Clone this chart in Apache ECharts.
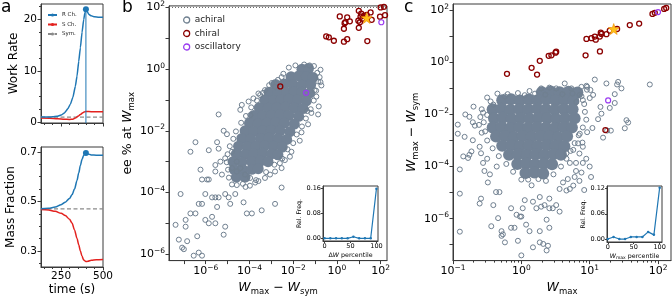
<!DOCTYPE html>
<html><head><meta charset="utf-8">
<script src="https://cdn.jsdelivr.net/npm/echarts@6/dist/echarts.min.js"></script>
<style>html,body{margin:0;padding:0;background:#fff}#c{width:672px;height:301px}</style>
</head><body><div id="c"></div>
<script>
const FONT='DejaVu Sans';
const BLUE='#1f77b4', RED='#e3221f', SYMG='#8a8a8a', SLATE='#708090', CORE='#728295', DRED='#8b0000', PURP='#9a3cf0', SP='#3a3a3a';

// ---------- panel a ----------
const tWorkR=[130,150,175,200,225,250,270,290,305,320,335,345,355,365,375,385,392,398,405,415,430,450,475,500];
const workR=[1.0,1.0,1.0,1.05,1.15,1.4,1.8,2.6,3.5,4.8,7.0,9.0,11.8,14.5,17.5,20.0,21.3,22.0,21.6,21.0,20.7,20.5,20.4,20.4];
const tWorkS=[130,180,230,270,300,320,335,350,365,380,392,400,430,500];
const workS=[0.8,0.78,0.7,0.6,0.55,0.6,0.8,1.15,1.5,1.85,2.05,2.1,2.05,2.05];
const tSym=[130,500];
const workSym=[1.0,1.0];
const peakT=398, peakWork=22.0, peakMass=0.696;
const tMass=[130,175,215,250,275,300,315,330,345,355,365,375,385,398,410,430,460,500];
const massR=[0.47,0.472,0.477,0.487,0.497,0.512,0.527,0.55,0.585,0.615,0.645,0.67,0.687,0.696,0.692,0.688,0.687,0.687];
const massS=[0.467,0.465,0.46,0.452,0.443,0.428,0.413,0.385,0.35,0.325,0.3,0.278,0.263,0.257,0.258,0.262,0.264,0.265];
const massSym=[0.47,0.47];
const workTicks=[0,10,20], workMinor=[2.5,5,7.5,12.5,15,17.5,22.5];
const massTicks=[0.3,0.5,0.7], massMinor=[0.25,0.35,0.4,0.45,0.55,0.6,0.65];
const timeTicks=[250,500], timeMinor=[150,200,300,350,400,450];

// ---------- panel b (log10 values) ----------
const bXTicks=[-7,-6,-5,-4,-3,-2,-1,0,1,2], bXLabels=[-6,-4,-2,0,2];
const bYTicks=[-6,-5,-4,-3,-2,-1,0,1,2], bYLabels=[-6,-4,-2,0,2];
const bCore=[[-1.6,0.0],[-1.3,0.02],
[-2.1,-0.25],[-1.75,-0.22],[-1.4,-0.25],[-1.1,-0.27],
[-2.8,-0.5],[-2.4,-0.48],[-2.0,-0.5],[-1.6,-0.52],[-1.2,-0.5],
[-3.1,-0.75],[-2.7,-0.77],[-2.3,-0.75],[-1.95,-0.73],[-1.6,-0.75],[-1.25,-0.78],
[-3.3,-1.0],[-2.9,-1.02],[-2.55,-1.0],[-2.2,-0.98],[-1.8,-1.0],[-1.4,-1.03],
[-3.55,-1.25],[-3.15,-1.27],[-2.75,-1.25],[-2.35,-1.23],[-1.95,-1.25],[-1.55,-1.28],
[-3.8,-1.5],[-3.4,-1.52],[-3.0,-1.5],[-2.6,-1.48],[-2.2,-1.5],[-1.75,-1.53],
[-4.0,-1.75],[-3.6,-1.77],[-3.2,-1.75],[-2.8,-1.73],[-2.4,-1.75],[-1.95,-1.78],
[-4.2,-2.0],[-3.8,-2.02],[-3.4,-2.0],[-3.0,-1.98],[-2.6,-2.0],[-2.15,-2.03],
[-4.35,-2.25],[-3.95,-2.27],[-3.5,-2.25],[-3.1,-2.23],[-2.7,-2.25],[-2.3,-2.28],
[-4.5,-2.5],[-4.1,-2.52],[-3.7,-2.5],[-3.3,-2.48],[-2.9,-2.5],[-2.5,-2.53],
[-4.6,-2.75],[-4.2,-2.77],[-3.8,-2.75],[-3.4,-2.73],[-3.0,-2.75],[-2.7,-2.78],
[-4.75,-3.0],[-4.35,-3.02],[-3.9,-3.0],[-3.5,-2.98],[-3.15,-3.0],
[-4.7,-3.25],[-4.3,-3.27],[-3.9,-3.25],[-3.6,-3.23],
[-4.6,-3.5],[-4.2,-3.5]];
const bAchiral=[[-2.53,-0.26],[-2.98,-0.45],[-2.83,-0.58],[-3.29,-0.68],[-3.59,-0.79],[-3.82,-0.95],[-4.35,-1.16],[-4.42,-1.32],[-5.41,-1.47],
[-0.71,-0.53],[-0.79,-0.26],[-1.02,-0.68],[-0.94,-0.89],[-1.17,-1.42],[-0.86,-1.47],[-1.32,-1.79],[-1.62,-2.05],[-1.70,-2.32],
[-2.08,-2.68],[-2.15,-2.84],[-2.38,-2.95],[-2.61,-3.05],[-2.53,-3.84],[-2.83,-4.37],[-3.44,-4.58],[-3.89,-4.68],[-4.12,-4.68],
[-4.27,-4.32],[-4.88,-4.37],[-4.95,-4.16],[-5.11,-4.05],[-5.41,-4.16],[-5.56,-4.16],[-5.71,-4.16],[-6.02,-4.05],[-6.17,-4.37],
[-6.32,-4.37],[-6.47,-4.68],[-6.70,-4.68],[-6.92,-4.89],[-7.15,-4.05],[-7.38,-5.05],[-7.23,-5.53],[-6.92,-5.11],[-6.85,-5.58],
[-7.0,-5.84],[-7.08,-5.79],[-6.55,-6.05],[-6.32,-5.95],[-6.17,-6.05],[-6.39,-5.42],[-6.02,-4.89],[-5.86,-5.0],[-5.56,-5.0],
[-5.11,-5.11],[-5.18,-5.37],[-5.71,-4.79],[-5.48,-4.47],[-4.80,-3.74],[-4.65,-4.05],[-5.26,-3.42],[-5.56,-3.32],[-5.86,-3.58],
[-6.24,-3.26],[-6.17,-3.58],[-5.94,-3.58],[-6.47,-2.37],[-6.70,-2.68],[-5.86,-2.63],[-5.48,-2.37],[-5.41,-2.58],[-5.18,-2.0],
[-5.03,-2.11],[-4.80,-2.68],[-4.58,-3.0],[-4.42,-3.21],[-4.20,-3.42],[-3.97,-3.53],[-3.74,-3.68],[-3.59,-3.63],[-3.29,-3.53],
[-3.06,-3.42],[-2.83,-3.32],[-2.53,-3.21],[-5.11,-2.89],[-5.33,-3.0],[-5.56,-3.11],[-4.80,-3.21],[-4.58,-3.32],
[-0.75,-0.02],[-0.75,-0.42],[-0.83,-1.21],[-1.36,-1.36],[-3.96,-1.49],[-4.04,-1.05],[-3.51,-0.84],
[-3.1,-0.52],[-3.38,-0.77],[-3.66,-1.02],[-3.92,-1.24],[-4.16,-1.52],[-4.38,-1.74],[-4.62,-2.02],[-4.74,-2.26],[-4.9,-2.5],
[-5.0,-2.76],[-5.04,-3.02],[-4.98,-3.26],[-4.94,-3.52],[-4.58,-3.76],[-4.3,-3.72],[-3.98,-3.78],
[-1.05,0.1],[-0.9,-0.12],[-0.86,-0.4],[-0.95,-0.7],[-1.06,-1.02],[-1.2,-1.3],[-1.42,-1.6],[-1.6,-1.86],[-1.84,-2.12],
[-2.0,-2.4],[-2.26,-2.6],[-2.5,-2.9],[-2.86,-3.1],[-3.24,-3.34],[-3.7,-3.6],[-4.18,-3.82],
[-2.2,0.05],[-1.9,0.12],[-1.5,0.15],[-1.25,0.12],[-2.45,-0.15],[-2.7,-0.35]];
const bChiral=[[0.13,1.71],[0.47,1.68],[0.39,1.52],[0.35,1.49],[0.32,1.31],[0.59,1.55],[-0.14,0.92],[0.32,0.89],[0.47,0.97],
[1.0,1.89],[1.11,1.80],[1.08,1.70],[1.23,1.73],[0.98,1.57],[1.05,1.52],[1.16,1.63],[1.36,1.76],[1.54,1.84],[1.59,1.60],
[1.0,1.34],[1.39,0.91],[1.97,1.70],[2.0,2.0],[2.15,2.02],[2.2,1.75],[-0.49,1.06],[-0.37,1.03],[-2.59,-0.56]];
const bOsc=[[2.03,1.52],[-1.41,-0.77]];
const bStar=[[1.36,1.66]];
const bRefLine=[[-7.68,2],[2.29,2]];

// ---------- panel c (log10 values) ----------
const cXTicks=[-1,0,1,2], cXLabels=[-1,0,1,2];
const cXMinorVals=[0.2,0.3,0.4,0.5,0.6,0.7,0.8,0.9,2,3,4,5,6,7,8,9,20,30,40,50,60,70,80,90];
const cYTicks=[-7,-6,-5,-4,-3,-2,-1,0,1,2], cYLabels=[-6,-4,-2,0,2];
const cCore=[[0.3,-1.15],[0.43,-1.12],[0.56,-1.15],[0.69,-1.13],[0.82,-1.16],
[-0.28,-1.45],[-0.15,-1.42],[-0.02,-1.46],[0.11,-1.43],[0.24,-1.45],[0.37,-1.42],[0.50,-1.46],[0.63,-1.44],[0.76,-1.47],
[-0.42,-1.8],[-0.29,-1.78],[-0.16,-1.82],[-0.03,-1.79],[0.10,-1.81],[0.23,-1.78],[0.36,-1.8],[0.49,-1.82],[0.62,-1.79],[0.75,-1.8],
[-0.40,-2.15],[-0.27,-2.13],[-0.14,-2.17],[-0.01,-2.14],[0.12,-2.16],[0.25,-2.13],[0.38,-2.15],[0.51,-2.17],[0.64,-2.14],[0.78,-2.15],
[-0.42,-2.5],[-0.29,-2.48],[-0.16,-2.52],[-0.03,-2.49],[0.10,-2.51],[0.23,-2.48],[0.36,-2.5],[0.49,-2.52],[0.62,-2.49],[0.74,-2.5],
[-0.37,-2.85],[-0.24,-2.83],[-0.11,-2.87],[0.02,-2.84],[0.15,-2.86],[0.28,-2.83],[0.41,-2.85],[0.54,-2.87],[0.67,-2.84],
[-0.28,-3.2],[-0.15,-3.18],[-0.02,-3.22],[0.11,-3.19],[0.24,-3.21],[0.37,-3.18],[0.50,-3.2],[0.63,-3.22],
[-0.18,-3.55],[-0.05,-3.53],[0.08,-3.57],[0.21,-3.54],[0.34,-3.56],[0.47,-3.53],[0.58,-3.55],
[-0.06,-3.9],[0.07,-3.88],[0.20,-3.92],[0.33,-3.89],[0.45,-3.91],
[0.06,-4.25],[0.19,-4.23],[0.32,-4.27]];
const cAchiral=[[-0.93,-2.39],[-0.93,-2.74],[-0.83,-2.86],[-0.76,-2.09],[-0.71,-2.30],[-0.68,-2.43],[-0.90,-4.11],[-0.90,-5.04],
[-0.90,-6.50],[-0.85,-3.61],[-0.76,-3.55],[-0.73,-3.42],[-0.78,-3.67],[-0.56,-1.93],[-0.59,-3.49],[-0.56,-3.86],[-0.54,-4.17],
[-0.49,-4.61],[-0.46,-4.30],[-0.61,-5.42],[-0.59,-5.23],[-0.44,-6.29],[-0.34,-5.98],[-0.29,-6.48],[-0.27,-6.60],[-0.24,-6.91],
[-0.29,-6.66],[-0.15,-6.35],[-0.10,-6.35],[-0.05,-6.85],[-0.02,-5.92],[0.0,-5.92],[0.02,-5.60],[-0.07,-5.85],[0.07,-6.23],
[0.12,-6.48],[0.17,-7.10],[0.27,-6.91],[0.27,-6.48],[0.22,-5.60],[0.29,-5.54],[0.37,-6.04],[0.32,-6.97],[0.37,-7.22],[0.34,-5.48],
[0.41,-5.60],[0.46,-5.60],[0.41,-6.35],[0.51,-5.48],[0.56,-5.73],[0.71,-4.86],[0.66,-4.92],[0.76,-4.73],[0.85,-4.55],[0.88,-4.23],
[0.80,-3.86],[0.90,-3.86],[0.68,-4.48],[0.56,-4.86],[0.61,-4.61],[0.41,-5.23],[0.17,-5.35],[0.05,-5.29],[-0.15,-5.60],[-0.32,-4.98],
[-0.37,-4.98],[-0.41,-5.48],[0.27,-5.17],[0.0,-7.41],[0.39,-7.04],[0.66,-3.49],[0.71,-3.86],[0.76,-3.36],[0.90,-3.24],[0.80,-4.17],
[-0.24,-1.31],[-0.05,-1.18],[0.12,-1.10],[0.29,-1.0],[0.41,-0.97],[0.51,-1.0],[-0.41,-1.62],[-0.71,-2.99],[-0.61,-3.24],
[0.635,-0.81],[1.075,-0.66],[0.953,-0.90],[1.245,-0.81],[1.416,-0.75],[1.401,-0.85],[1.465,-1.00],[1.88,-0.85],[1.367,-1.22],
[1.158,-1.71],[1.367,-1.56],[1.294,-1.75],[1.172,-1.97],[1.123,-2.18],[1.538,-2.22],[1.563,-2.31],[1.514,-2.53],[1.04,-2.52],
[1.255,-2.62],[1.196,-2.89],[0.963,-0.94],[1.011,-1.06],[1.050,-1.25],[1.001,-1.37],[0.855,-1.25],[0.733,-1.00],[0.879,-0.94],
[0.806,-1.52],[1.31,-2.62],[0.963,-2.68],[0.855,-2.74],[0.894,-3.08],[0.83,-3.11],
[-0.45,-1.5],[-0.58,-1.8],[-0.6,-2.1],[-0.62,-2.4],[-0.58,-2.7],[-0.5,-3.0],[-0.42,-3.3],[-0.33,-3.6],[-0.22,-3.9],[-0.12,-4.2],[0.0,-4.5],
[0.88,-1.3],[0.92,-1.6],[0.93,-1.9],[0.95,-2.2],[0.9,-2.5],[0.84,-2.8],[0.78,-3.1],[0.72,-3.4],[0.66,-3.7],[0.58,-4.0],[0.47,-4.3],[0.36,-4.55],
[-0.35,-1.2],[-0.2,-1.22],[0.05,-1.26],[0.2,-1.2],[0.35,-1.24],[0.6,-1.22],[0.75,-1.2],[0.1,-4.5],[0.25,-4.48],[0.15,-4.72],
[0.85,-3.5],[0.95,-3.7],[1.0,-4.0],[0.78,-4.4],[0.92,-4.9],[1.02,-4.4],[-0.5,-1.35],[-0.7,-1.7],[-0.82,-2.0],[-0.5,-3.7],[-0.36,-4.0],
[-0.55,-2.3],[-0.53,-2.65],[-0.5,-2.02],[0.96,-1.05],[0.9,-1.45]];
const cChiral=[[-0.21,-0.44],[0.15,-0.21],[0.23,-0.47],[0.27,0.06],[0.40,0.25],[0.44,0.27],[0.50,0.37],[0.51,0.41],[0.94,0.27],
[1.15,0.42],[1.23,-2.60],[0.953,0.90],[1.026,0.93],[1.075,0.99],[1.089,0.87],[1.148,0.99],[1.172,1.09],[1.162,1.14],[1.245,1.08],
[1.294,1.22],[1.401,1.28],[1.587,1.43],[1.724,1.49],[1.919,1.86],[1.953,1.90],[2.09,2.05],[2.12,2.09]];
const cOsc=[[1.27,-1.46],[2.0,1.93]];
const cStar=[[1.352,1.28]];

// ---------- insets ----------
const pct=[0,11.1,22.2,33.3,44.4,55.6,66.7,77.8,88.9,100];
const freqB=[0,0,0,0,0,0.005,0,0,0,0.158];
const freqC=[0,0.005,0,0,0.005,0.005,0.005,0.017,0.010,0.122];
const insetBYTicks=[0,0.08,0.16], insetCYTicks=[0,0.06,0.12], insetXTicks=[0,50,100];

// ---------- helpers ----------
const zip=(a,b)=>a.map((v,i)=>[v,b[i]]);
const pow=v=>{const n=Math.round(v);return '{b|10}{s|'+(n<0?'\u2212'+(-n):n)+'}';};
const powRich={b:{fontFamily:FONT,fontSize:11,lineHeight:15,color:'#000'},s:{fontFamily:FONT,fontSize:7.5,lineHeight:8,verticalAlign:'top',color:'#000'}};
const nameRich={i:{fontFamily:FONT,fontStyle:'italic',fontSize:12.5,lineHeight:16,color:'#000'},
  s:{fontFamily:FONT,fontSize:8.5,lineHeight:8,verticalAlign:'bottom',color:'#000'},
  n:{fontFamily:FONT,fontSize:12.5,lineHeight:16,color:'#000'}};
const smallRich={i:{fontFamily:FONT,fontStyle:'italic',fontSize:6.3,lineHeight:8,color:'#000'},
  s:{fontFamily:FONT,fontSize:4.5,lineHeight:4,verticalAlign:'bottom',color:'#000'},
  n:{fontFamily:FONT,fontSize:6.3,lineHeight:8,color:'#000'}};
function ax(o){
  return {type:'value',gridIndex:o.g,min:o.min,max:o.max,position:o.pos,
    splitLine:{show:false},
    axisLine:{show:o.line!==false,onZero:false,lineStyle:{color:SP,width:1}},
    axisTick:{show:true,inside:false,length:o.tl||3.5,customValues:o.ticks,lineStyle:{color:SP,width:1}},
    axisLabel:{show:!!o.labels,customValues:o.labels||[],margin:o.m||4,fontFamily:FONT,fontSize:o.fs||11,color:'#000',formatter:o.fmt,rich:o.rich},
    name:o.name||'',nameLocation:'middle',nameGap:o.ng||0,
    nameTextStyle:{fontFamily:FONT,fontSize:o.nfs||12,color:'#000',rich:o.nrich},z:3};
}
const xAxis=[
  ax({g:0,min:130,max:500,pos:'bottom',ticks:timeTicks}),
  ax({g:0,min:130,max:500,pos:'bottom',ticks:timeMinor,tl:2,line:false}),
  ax({g:1,min:130,max:500,pos:'bottom',ticks:timeTicks,labels:timeTicks,m:4,fs:10.5,name:'time (s)',ng:17,nfs:12}),
  ax({g:1,min:130,max:500,pos:'bottom',ticks:timeMinor,tl:2,line:false}),
  ax({g:2,min:-7.68,max:2.29,pos:'bottom',ticks:bXTicks,labels:bXLabels,fmt:pow,rich:powRich,m:3,
      name:'{i|W}{s|max} \u2212 {i|W}{s|sym}',nrich:nameRich,nfs:12.5,ng:17}),
  ax({g:3,min:-1,max:2.19,pos:'bottom',ticks:cXTicks,labels:cXLabels,fmt:pow,rich:powRich,m:3,
      name:'{i|W}{s|max}',nrich:nameRich,nfs:12.5,ng:17}),
  ax({g:3,min:-1,max:2.19,pos:'bottom',ticks:cXMinorVals.map(Math.log10),tl:2,line:false}),
  ax({g:4,min:-3,max:103,pos:'bottom',ticks:insetXTicks,labels:insetXTicks,tl:2,m:2,fs:6.5,
      name:'{n|\u0394}{i|W}{n| percentile}',nrich:smallRich,nfs:6.3,ng:10}),
  ax({g:5,min:-1.5,max:104.5,pos:'bottom',ticks:insetXTicks,labels:insetXTicks,tl:2,m:2,fs:6.5,
      name:'{i|W}{s|max}{n| percentile}',nrich:smallRich,nfs:6.3,ng:10})
];
const yAxis=[
  ax({g:0,min:-0.15,max:23,pos:'left',ticks:workTicks,labels:workTicks,m:4,fs:10.5,name:'Work Rate',ng:20,nfs:12}),
  ax({g:0,min:-0.15,max:23,pos:'left',ticks:workMinor,tl:2,line:false}),
  ax({g:1,min:0.235,max:0.72,pos:'left',ticks:massTicks,labels:massTicks,m:4,fs:10.5,fmt:v=>v.toFixed(1),name:'Mass Fraction',ng:22,nfs:12}),
  ax({g:1,min:0.235,max:0.72,pos:'left',ticks:massMinor,tl:2,line:false}),
  ax({g:2,min:-6.21,max:2.05,pos:'left',ticks:bYTicks,labels:bYLabels,fmt:pow,rich:powRich,m:4,
      name:'ee % at {i|W}{s|max}',nrich:nameRich,nfs:12.5,ng:28}),
  ax({g:3,min:-7.61,max:2.24,pos:'left',ticks:cYTicks,labels:cYLabels,fmt:pow,rich:powRich,m:4,
      name:'{i|W}{s|max} \u2212 {i|W}{s|sym}',nrich:nameRich,nfs:12.5,ng:28}),
  ax({g:4,min:-0.0086,max:0.1664,pos:'left',ticks:insetBYTicks,labels:insetBYTicks,tl:2,m:2,fs:6.5,fmt:v=>v.toFixed(2),
      name:'Rel. Freq.',nfs:6.3,ng:21}),
  ax({g:5,min:-0.007,max:0.126,pos:'left',ticks:insetCYTicks,labels:insetCYTicks,tl:2,m:2,fs:6.5,fmt:v=>v.toFixed(2),
      name:'Rel. Freq.',nfs:6.3,ng:21})
];
const grid=[
  {left:41,top:4,width:62,height:119},
  {left:41,top:147,width:62,height:120},
  {left:169,top:5,width:218,height:262},
  {left:453,top:4,width:218,height:263},
  {left:323,top:186,width:55,height:55,backgroundColor:'#fff'},
  {left:607,top:186,width:55,height:56,backgroundColor:'#fff'}
].map(g=>Object.assign({show:true,borderColor:SP,borderWidth:1,containLabel:false},g));

const openSym=(color,bw)=>({color:'rgba(255,255,255,0)',borderColor:color,borderWidth:bw,opacity:1});
function sc(name,xi,yi,data,style,size,z,symbol){
  return {type:'scatter',name,xAxisIndex:xi,yAxisIndex:yi,data,symbol:symbol||'circle',symbolSize:size,
    itemStyle:Object.assign({opacity:1},style),z:z,silent:true,clip:false};
}
function ln(name,xi,yi,data,color,w,dash,smooth){
  return {type:'line',name,xAxisIndex:xi,yAxisIndex:yi,data,symbol:'none',smooth:smooth||false,smoothMonotone:'x',
    lineStyle:{color,width:w,type:dash||'solid'},itemStyle:{color},z:3,silent:true};
}
const STAR='path://M0,-10L2.35,-3.24L9.51,-3.09L3.8,1.24L5.88,8.09L0,4L-5.88,8.09L-3.8,1.24L-9.51,-3.09L-2.35,-3.24Z';
const series=[
  // panel a top
  ln('Sym.',0,0,zip(tSym,workSym),SYMG,1.3,[4,2.5]),
  ln('S Ch.',0,0,zip(tWorkS,workS),RED,1.5,null,0.3),
  ln('R Ch.',0,0,zip(tWorkR,workR),BLUE,1.5,null,0.15),
  ln('',0,0,[[peakT,-0.15],[peakT,peakWork]],BLUE,1),
  sc('',0,0,[[peakT,peakWork]],{color:BLUE},6,5),
  // panel a bottom
  ln('Sym.',2,2,zip(tSym,massSym),SYMG,1.3,[4,2.5]),
  ln('S Ch.',2,2,zip(tMass,massS),RED,1.5,null,0.3),
  ln('R Ch.',2,2,zip(tMass,massR),BLUE,1.5,null,0.3),
  sc('',2,2,[[peakT,peakMass]],{color:BLUE},6,5),
  // panel b
  ln('',4,4,bRefLine,'#666',1,[1,2]),
  sc('',4,4,bCore,{color:CORE},11,2),
  sc('achiral',4,4,bAchiral,openSym(SLATE,1),5,3),
  sc('chiral',4,4,bChiral,openSym(DRED,1.3),5,4),
  sc('oscillatory',4,4,bOsc,openSym(PURP,1.2),5,4),
  sc('',4,4,bStar,{color:'#ffc21a',borderColor:'#f08a00',borderWidth:0.6},11,5,STAR),
  // panel c
  sc('',5,5,cCore,{color:CORE},12,2),
  sc('achiral',5,5,cAchiral,openSym(SLATE,1),5,3),
  sc('chiral',5,5,cChiral,openSym(DRED,1.3),5,4),
  sc('oscillatory',5,5,cOsc,openSym(PURP,1.2),5,4),
  sc('',5,5,cStar,{color:'#ffc21a',borderColor:'#f08a00',borderWidth:0.6},11,5,STAR),
  // insets
  Object.assign(ln('',7,6,zip(pct,freqB),BLUE,1.2),{symbol:'circle',symbolSize:2.5,showSymbol:true,z:6}),
  Object.assign(ln('',8,7,zip(pct,freqC),BLUE,1.2),{symbol:'circle',symbolSize:2.5,showSymbol:true,z:6})
];
const chart=echarts.init(document.getElementById('c'),null,{renderer:'canvas'});
chart.setOption({
  animation:false,backgroundColor:'#fff',
  grid,xAxis,yAxis,series,
  legend:[
    {left:42,top:7,orient:'vertical',itemGap:3.5,itemWidth:9,itemHeight:4,selectedMode:false,
     textStyle:{fontFamily:FONT,fontSize:5.5,color:'#222'},data:['R Ch.','S Ch.','Sym.']},
    {left:178,top:10,orient:'vertical',itemGap:3.5,itemWidth:6,itemHeight:6,selectedMode:false,
     itemStyle:{borderWidth:1.3},
     textStyle:{fontFamily:FONT,fontSize:9,color:'#222',lineHeight:10},data:['achiral','chiral','oscillatory']}
  ],
  graphic:[
    {type:'text',left:1,top:-1,style:{text:'a',font:'17px "DejaVu Sans"',fill:'#000'}},
    {type:'text',left:122,top:-1,style:{text:'b',font:'17px "DejaVu Sans"',fill:'#000'}},
    {type:'text',left:404,top:-1,style:{text:'c',font:'17px "DejaVu Sans"',fill:'#000'}}
  ]
});
</script></body></html>
